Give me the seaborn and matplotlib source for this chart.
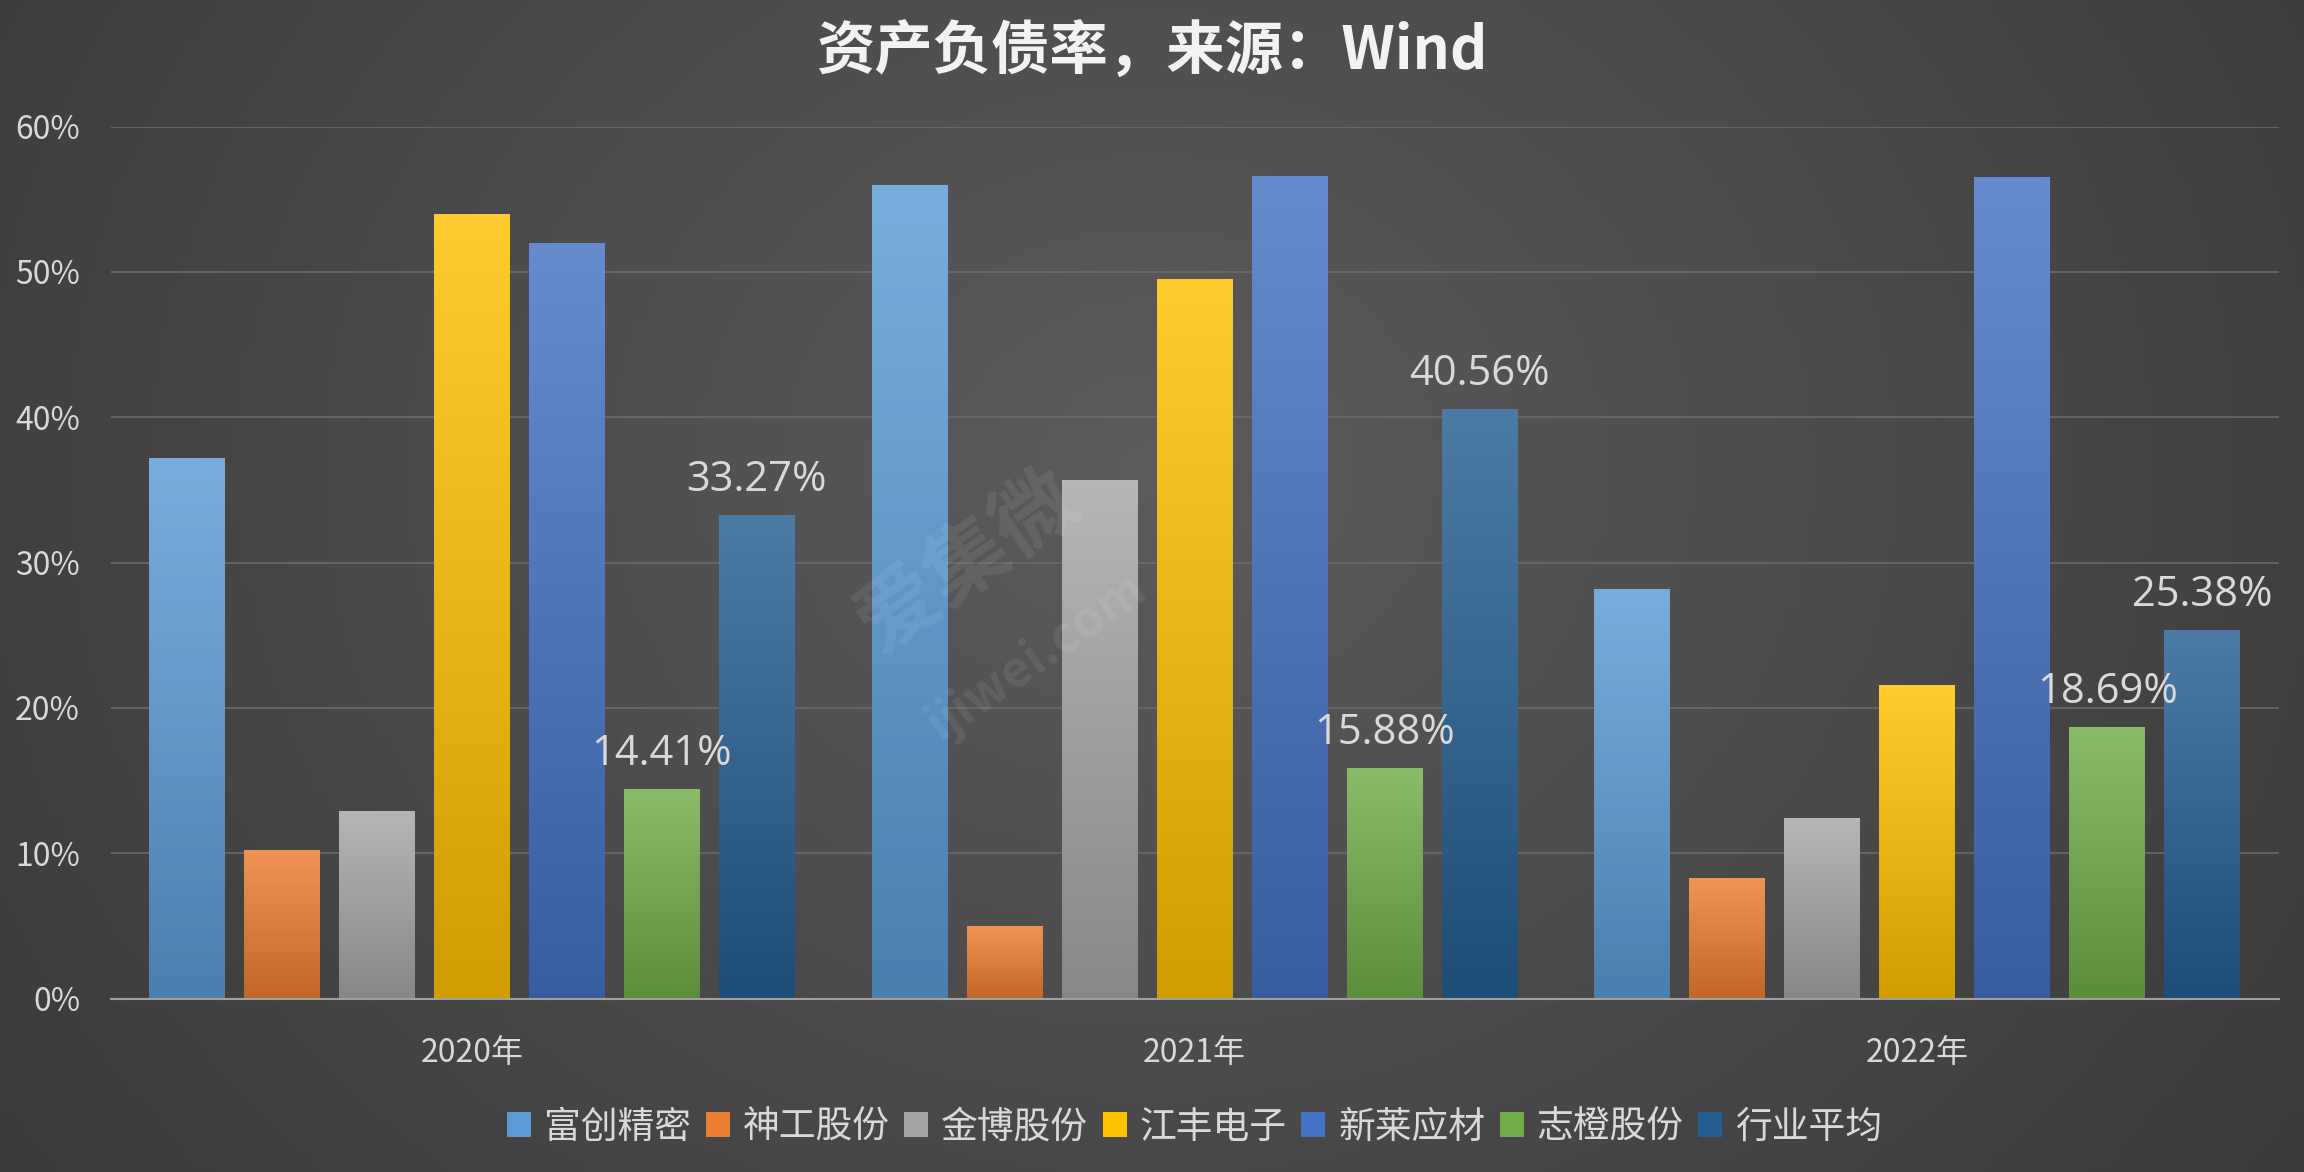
import matplotlib
matplotlib.use("Agg")
import matplotlib.pyplot as plt
import seaborn as sns
import pandas as pd
import numpy as np
from matplotlib.colors import to_rgb

years = ["2020年", "2021年", "2022年"]
companies = ["富创精密", "神工股份", "金博股份", "江丰电子", "新莱应材", "志橙股份", "行业平均"]
v_fuchuang = [37.2, 56.0, 28.2]
v_shengong = [10.2, 5.0, 8.3]
v_jinbo = [12.9, 35.7, 12.4]
v_jiangfeng = [54.0, 49.5, 21.6]
v_xinlai = [52.0, 56.6, 56.5]
v_zhicheng = [14.41, 15.88, 18.69]
v_avg = [33.27, 40.56, 25.38]
series = [v_fuchuang, v_shengong, v_jinbo, v_jiangfeng, v_xinlai, v_zhicheng, v_avg]
colors = ["#5b9bd5", "#ed7d31", "#a5a5a5", "#ffc000", "#4472c4", "#70ad47", "#255e91"]
labelled = {"志橙股份", "行业平均"}

rows = [(y, c, s[i]) for c, s in zip(companies, series) for i, y in enumerate(years)]
df = pd.DataFrame(rows, columns=["year", "company", "value"])

sns.set_theme(style="dark")
plt.rcParams['font.family'] = ['Noto Sans CJK SC', 'DejaVu Sans']

fig = plt.figure(figsize=(23.04, 11.72), dpi=100)
bg = fig.add_axes([0, 0, 1, 1], zorder=-10)
yy = np.linspace(0, 1, 256)[:, None]
xx = np.linspace(-1, 1, 256)[None, :]
r = np.sqrt(xx**2 + ((yy - 0.4) * 1.2)**2)
img = 0.36 - 0.15 * np.clip(r, 0, 1.4) / 1.4
bg.imshow(np.dstack([img, img, img]), extent=[0, 1, 0, 1], aspect='auto')
bg.axis('off')

ax = fig.add_axes([0.048, 0.148, 0.941, 0.744])
ax.patch.set_alpha(0)
sns.barplot(data=df, x="year", y="value", hue="company", palette=colors,
            width=0.92, gap=0.2, ax=ax, legend=True, saturation=1)

for cont, comp, col in zip(ax.containers, companies, colors):
    c = np.array(to_rgb(col))
    top = np.clip(c + (1 - c) * 0.18, 0, 1)
    bot = c * 0.82
    t = np.linspace(0, 1, 100)[:, None]
    grd = bot[None, :] * (1 - t) + top[None, :] * t
    grd = grd[::-1][:, None, :].repeat(2, axis=1)
    for p in cont.patches:
        x0, y0, w, h = p.get_x(), p.get_y(), p.get_width(), p.get_height()
        im = ax.imshow(grd, extent=[x0, x0 + w, y0, y0 + h], aspect='auto', zorder=2)
        im.set_clip_path(p)
        p.set_facecolor('none')
        p.set_edgecolor('none')
    if comp in labelled:
        ax.bar_label(cont, labels=[f"{v:.2f}%" for v in cont.datavalues], padding=10,
                     fontsize=30, color="#d9d9d9", family=['Open Sans', 'DejaVu Sans'])

ax.set_xlim(-0.5, 2.5)
ax.set_ylim(0, 60)
ax.set_yticks(range(0, 61, 10))
ax.set_yticklabels([f"{v}%" for v in range(0, 61, 10)])
ax.yaxis.grid(True, color="#6a6a6a", linewidth=1.2)
ax.xaxis.grid(False)
ax.set_axisbelow(True)
for s in ["top", "right", "left"]:
    ax.spines[s].set_visible(False)
ax.spines["bottom"].set_color("#a0a0a0")
ax.spines["bottom"].set_linewidth(1.5)
ax.tick_params(axis='both', colors="#d9d9d9", labelsize=23, length=0)
ax.tick_params(axis='x', pad=28)
ax.tick_params(axis='y', pad=22)
ax.set_xlabel("")
ax.set_ylabel("")

leg = ax.legend(loc="upper center", bbox_to_anchor=(0.5, -0.087), ncol=7, frameon=False,
                fontsize=26.5, handlelength=0.65, handleheight=0.65, columnspacing=0.4,
                handletextpad=0.35)
for t in leg.get_texts():
    t.set_color("#d9d9d9")
for h, col in zip(leg.legend_handles, colors):
    h.set_facecolor(col)
    h.set_edgecolor('none')

fig.text(0.5, 0.955, "资产负债率，来源：Wind", ha="center", va="center",
         fontsize=42, fontweight="bold", color="#f2f2f2")
fig.text(0.42, 0.52, "爱集微", fontsize=60, rotation=35, color="white", alpha=0.08,
         ha="center", va="center", fontweight="bold")
fig.text(0.45, 0.44, "ijiwei.com", fontsize=36, rotation=35, color="white", alpha=0.08,
         ha="center", va="center", fontweight="bold")

fig.savefig("out.png", dpi=100)
